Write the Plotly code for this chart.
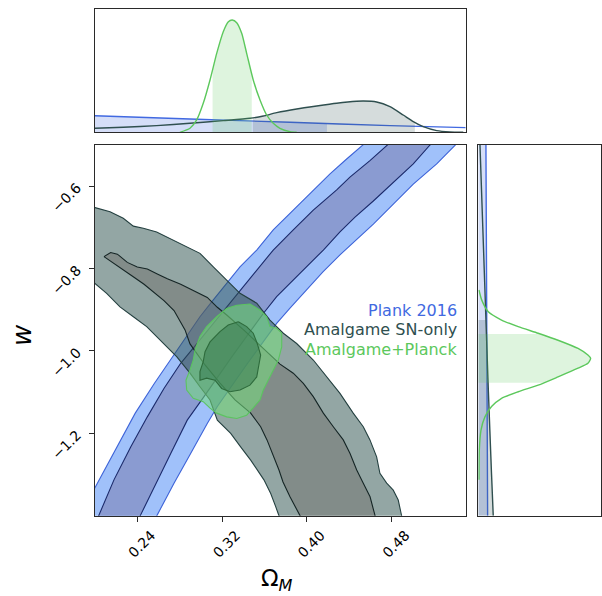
import numpy as np
import plotly.graph_objects as go

# ---------------- 2D credible regions (Omega_M, w) ----------------
# Planck 2016: boundaries of the 2-sigma band (outer) and 1-sigma band (inner)
planck_outer_left_x = [0.1783, 0.2000, 0.2211, 0.2380, 0.2560, 0.2730, 0.2903, 0.2991, 0.3117, 0.3243,
                       0.3369, 0.3527, 0.3683, 0.3872, 0.4061, 0.4219, 0.4376, 0.4533, 0.4691]
planck_outer_left_w = [-1.435, -1.333, -1.233, -1.151, -1.079, -1.014, -0.949, -0.917, -0.876, -0.836,
                       -0.796, -0.755, -0.706, -0.658, -0.609, -0.570, -0.534, -0.500, -0.464]
planck_outer_right_x = [0.2514, 0.2588, 0.2746, 0.2903, 0.3060, 0.3155, 0.3435, 0.3715, 0.3841, 0.3992,
                        0.4152, 0.4313, 0.4464, 0.4628, 0.4817, 0.5005, 0.5226, 0.5399, 0.5540]
planck_outer_right_w = [-1.435, -1.398, -1.321, -1.249, -1.176, -1.135, -1.032, -0.933, -0.896, -0.852,
                        -0.808, -0.767, -0.731, -0.692, -0.643, -0.595, -0.546, -0.500, -0.464]
planck_inner_left_x = [0.1977, 0.2038, 0.2179, 0.2337, 0.2494, 0.2651, 0.2809, 0.2991, 0.3117, 0.3243,
                       0.3369, 0.3527, 0.3683, 0.3872, 0.4061, 0.4282, 0.4407, 0.4596, 0.4760, 0.4917]
planck_inner_left_w = [-1.435, -1.398, -1.313, -1.233, -1.160, -1.091, -1.030, -0.973, -0.933, -0.893,
                       -0.852, -0.804, -0.755, -0.706, -0.658, -0.609, -0.578, -0.538, -0.500, -0.464]
planck_inner_right_x = [0.2365, 0.2431, 0.2557, 0.2715, 0.2871, 0.3029, 0.3303, 0.3589, 0.3715, 0.3841,
                        0.3999, 0.4156, 0.4313, 0.4455, 0.4628, 0.4817, 0.5005, 0.5163, 0.5305]
planck_inner_right_w = [-1.435, -1.398, -1.330, -1.249, -1.168, -1.111, -1.010, -0.909, -0.868, -0.836,
                        -0.796, -0.755, -0.711, -0.675, -0.636, -0.592, -0.546, -0.500, -0.464]

# Amalgame SN-only: closed outlines of the 2-sigma and 1-sigma regions
sn_outer_x = [0.1906, 0.2000, 0.2142, 0.2267, 0.2362, 0.2456, 0.2582, 0.2708, 0.2866, 0.2991, 0.3117,
              0.3243, 0.3369, 0.3527, 0.3652, 0.3778, 0.3904, 0.4061, 0.4187, 0.4313, 0.4438, 0.4533,
              0.4596, 0.4659, 0.4690, 0.4754, 0.4816, 0.4863, 0.4895, 0.4900,
              0.3740, 0.3737, 0.3706, 0.3659, 0.3595, 0.3532, 0.3470, 0.3375, 0.3281, 0.3155, 0.3086,
              0.2991, 0.2897, 0.2771, 0.2677, 0.2582, 0.2488, 0.2362, 0.2236, 0.2110, 0.2000, 0.1906]
sn_outer_w = [-0.634, -0.652, -0.662, -0.678, -0.697, -0.702, -0.711, -0.727, -0.747, -0.763, -0.796,
              -0.828, -0.860, -0.884, -0.925, -0.957, -0.982, -1.022, -1.063, -1.103, -1.151, -1.184,
              -1.216, -1.257, -1.297, -1.321, -1.338, -1.362, -1.400, -1.435,
              -1.435, -1.400, -1.378, -1.346, -1.313, -1.289, -1.265, -1.233, -1.200, -1.168, -1.119,
              -1.087, -1.054, -1.014, -0.990, -0.965, -0.941, -0.917, -0.893, -0.860, -0.836, -0.816]
sn_inner_x = [0.2085, 0.2148, 0.2211, 0.2305, 0.2399, 0.2494, 0.2588, 0.2683, 0.2809, 0.2935, 0.3060,
              0.3155, 0.3249, 0.3416, 0.3539, 0.3652, 0.3747, 0.3872, 0.3967, 0.4061, 0.4156, 0.4250,
              0.4344, 0.4408, 0.4471, 0.4533, 0.4597, 0.4644, 0.4653,
              0.3936, 0.3936, 0.3841, 0.3775, 0.3737, 0.3681, 0.3624, 0.3564, 0.3470, 0.3322, 0.3180,
              0.3039, 0.2897, 0.2850, 0.2803, 0.2746, 0.2651, 0.2557, 0.2463, 0.2368, 0.2274, 0.2179, 0.2116]
sn_inner_w = [-0.771, -0.761, -0.765, -0.785, -0.796, -0.801, -0.813, -0.825, -0.838, -0.854, -0.870,
              -0.894, -0.914, -0.952, -0.981, -1.010, -1.032, -1.054, -1.079, -1.111, -1.151, -1.184,
              -1.216, -1.249, -1.289, -1.321, -1.354, -1.400, -1.435,
              -1.435, -1.400, -1.354, -1.318, -1.289, -1.253, -1.216, -1.184, -1.151, -1.119, -1.078,
              -1.034, -0.983, -0.949, -0.927, -0.902, -0.878, -0.858, -0.838, -0.821, -0.805, -0.789, -0.777]

# Amalgame+Planck: closed outlines of the 2-sigma and 1-sigma regions
amal_outer_x = [0.3338, 0.3463, 0.3558, 0.3621, 0.3652, 0.3715, 0.3763, 0.3763, 0.3731, 0.3683, 0.3636,
                0.3589, 0.3558, 0.3494, 0.3432, 0.3338, 0.3243, 0.3149, 0.3086, 0.3022, 0.2928, 0.2866,
                0.2859, 0.2897, 0.2928, 0.2944, 0.2991, 0.3054, 0.3149, 0.3243]
amal_outer_w = [-0.889, -0.886, -0.901, -0.917, -0.941, -0.945, -0.957, -0.990, -1.022, -1.046, -1.071,
                -1.095, -1.119, -1.139, -1.156, -1.164, -1.160, -1.151, -1.139, -1.123, -1.115, -1.095,
                -1.071, -1.046, -1.022, -0.998, -0.965, -0.941, -0.917, -0.897]
amal_inner_x = [0.3353, 0.3432, 0.3494, 0.3532, 0.3564, 0.3542, 0.3527, 0.3463, 0.3369, 0.3274, 0.3196,
                0.3133, 0.3054, 0.2991, 0.2991, 0.3022, 0.3039, 0.3086, 0.3180, 0.3258]
amal_inner_w = [-0.929, -0.941, -0.957, -0.982, -1.010, -1.038, -1.063, -1.083, -1.095, -1.099, -1.091,
                -1.071, -1.066, -1.071, -1.050, -1.026, -1.002, -0.978, -0.953, -0.937]

# ---------------- 1D marginals ----------------
# Omega_M marginals (relative density)
top_planck_x = [0.200, 0.2897, 0.3841, 0.4785, 0.550]
top_planck_d = [0.148, 0.119, 0.089, 0.059, 0.042]
top_sn_x = [0.2000, 0.2267, 0.2582, 0.2897, 0.3211, 0.3463, 0.3589, 0.3715, 0.3904, 0.4093, 0.4282,
            0.4470, 0.4533, 0.4659, 0.4785, 0.4910, 0.5005, 0.5099, 0.5226, 0.5351, 0.5477]
top_sn_d = [0.036, 0.045, 0.059, 0.080, 0.104, 0.125, 0.145, 0.175, 0.208, 0.234, 0.258,
            0.276, 0.279, 0.270, 0.228, 0.154, 0.095, 0.050, 0.015, 0.003, 0.000]
top_amal_x = [0.2802, 0.2897, 0.2960, 0.3022, 0.3086, 0.3149, 0.3211, 0.3259, 0.3296, 0.3338, 0.3385,
              0.3432, 0.3494, 0.3558, 0.3621, 0.3683, 0.3746, 0.3841, 0.3904]
top_amal_d = [0.000, 0.036, 0.110, 0.258, 0.466, 0.703, 0.896, 0.985, 1.000, 0.976, 0.881,
              0.703, 0.466, 0.288, 0.154, 0.080, 0.036, 0.006, 0.000]

# w marginals (relative density)
side_planck_w = [-0.5, -0.8, -1.1, -1.4]
side_planck_d = [0.068, 0.073, 0.078, 0.083]
side_sn_w = [-0.5, -0.7, -0.9, -1.1, -1.3, -1.4]
side_sn_d = [0.015, 0.040, 0.065, 0.090, 0.118, 0.133]
side_amal_w = [-0.852, -0.876, -0.905, -0.925, -0.941, -0.957, -0.974, -0.994, -1.010, -1.018, -1.030,
               -1.042, -1.063, -1.083, -1.099, -1.115, -1.135, -1.160, -1.192, -1.241, -1.313]
side_amal_d = [0.006, 0.030, 0.089, 0.207, 0.355, 0.533, 0.710, 0.888, 0.976, 1.000, 0.976,
               0.888, 0.710, 0.533, 0.355, 0.207, 0.118, 0.059, 0.024, 0.009, 0.006]

# 68% intervals shaded under each marginal
planck_x_interval = (0.200, 0.419)
sn_x_interval = (0.349, 0.502)
amal_x_interval = (0.311, 0.348)
planck_w_interval = (-1.40, -0.50)
sn_w_interval = (-1.40, -0.925)
amal_w_interval = (-1.077, -0.959)

# axis ticks
x_ticks = [0.24, 0.32, 0.40, 0.48]
x_tick_text = ["0.24", "0.32", "0.40", "0.48"]
w_ticks = [-1.2, -1.0, -0.8, -0.6]
w_tick_text = ["\u22121.2", "\u22121.0", "\u22120.8", "\u22120.6"]

legend_names = ["Plank 2016", "Amalgame SN-only", "Amalgame+Planck"]
colors = ["#4169E1", "#2F4F4F", "#5CC85C"]

FONT = "DejaVu Sans"
W, H = 602, 596

fig = go.Figure()


def polygon(x, y, fill, line, width=1.1):
    fig.add_trace(go.Scatter(x=list(x) + [x[0]], y=list(y) + [y[0]], mode="lines",
                             fill="toself", fillcolor=fill,
                             line=dict(color=line, width=width),
                             hoverinfo="skip", showlegend=False, xaxis="x", yaxis="y"))


# Planck band: the 2-sigma region and the 1-sigma region
polygon(planck_outer_left_x + planck_outer_right_x[::-1],
        planck_outer_left_w + planck_outer_right_w[::-1],
        "#A0C1FA", "#3D63D8")
polygon(planck_inner_left_x + planck_inner_right_x[::-1],
        planck_inner_left_w + planck_inner_right_w[::-1],
        "#8A9BD1", "#1B2A6B")
# SN-only contours
polygon(sn_outer_x, sn_outer_w, "rgba(47,85,80,0.52)", "#244040")
polygon(sn_inner_x, sn_inner_w, "rgba(105,102,98,0.40)", "#152525")
# combined contours
polygon(amal_outer_x, amal_outer_w, "rgba(118,222,124,0.56)", "#5CC460")
polygon(amal_inner_x, amal_inner_w, "rgba(45,112,70,0.45)", "#2E6B3C")


def shade_top(xs, ds, interval, color):
    lo, hi = interval
    inner = [(a, b) for a, b in zip(xs, ds) if lo < a < hi]
    px = [lo] + [a for a, _ in inner] + [hi]
    pd_ = [float(np.interp(lo, xs, ds))] + [b for _, b in inner] + [float(np.interp(hi, xs, ds))]
    fig.add_trace(go.Scatter(x=px, y=pd_, mode="lines", fill="tozeroy", fillcolor=color,
                             line=dict(width=0, color=color), hoverinfo="skip",
                             showlegend=False, xaxis="x2", yaxis="y2"))


def shade_side(ws, ds, interval, color):
    lo, hi = interval
    order = np.argsort(ws)
    ws_s = np.asarray(ws)[order]
    ds_s = np.asarray(ds)[order]
    inner = [(a, b) for a, b in zip(ws_s, ds_s) if lo < a < hi]
    pw = [lo] + [a for a, _ in inner] + [hi]
    pd_ = [float(np.interp(lo, ws_s, ds_s))] + [b for _, b in inner] + [float(np.interp(hi, ws_s, ds_s))]
    fig.add_trace(go.Scatter(x=pd_, y=pw, mode="lines", fill="tozerox", fillcolor=color,
                             line=dict(width=0, color=color), hoverinfo="skip",
                             showlegend=False, xaxis="x3", yaxis="y3"))


def curve(x, y, color, ax, ay):
    fig.add_trace(go.Scatter(x=x, y=y, mode="lines", line=dict(color=color, width=1.4, shape="spline",
                                                              smoothing=0.6),
                             hoverinfo="skip", showlegend=False, xaxis=ax, yaxis=ay))


# Omega_M marginals
shade_top(top_planck_x, top_planck_d, planck_x_interval, "rgba(65,105,225,0.22)")
curve(top_planck_x, top_planck_d, colors[0], "x2", "y2")
shade_top(top_sn_x, top_sn_d, sn_x_interval, "rgba(47,79,79,0.2)")
curve(top_sn_x, top_sn_d, colors[1], "x2", "y2")
shade_top(top_amal_x, top_amal_d, amal_x_interval, "rgba(92,200,92,0.2)")
curve(top_amal_x, top_amal_d, colors[2], "x2", "y2")

# w marginals
shade_side(side_planck_w, side_planck_d, planck_w_interval, "rgba(65,105,225,0.22)")
curve(side_planck_d, side_planck_w, colors[0], "x3", "y3")
shade_side(side_sn_w, side_sn_d, sn_w_interval, "rgba(47,79,79,0.2)")
curve(side_sn_d, side_sn_w, colors[1], "x3", "y3")
shade_side(side_amal_w, side_amal_d, amal_w_interval, "rgba(92,200,92,0.2)")
curve(side_amal_d, side_amal_w, colors[2], "x3", "y3")

main_x_dom = [95 / W, 465.7 / W]
main_y_dom = [(H - 515.7) / H, (H - 145) / H]
top_y_dom = [(H - 132.3) / H, (H - 9.3) / H]
side_x_dom = [478.3 / W, 601.3 / W]

frame = dict(showline=True, mirror=True, linecolor="#2a2a2a", linewidth=1.2,
             showgrid=False, zeroline=False)

fig.update_layout(
    width=W, height=H,
    margin=dict(l=0, r=0, t=0, b=0),
    paper_bgcolor="white", plot_bgcolor="white",
    font=dict(family=FONT, color="black"),
    showlegend=False,
    xaxis=dict(domain=main_x_dom, range=[0.2, 0.55], anchor="y", **frame,
               ticks="outside", ticklen=5, tickwidth=1, tickcolor="#2a2a2a",
               tickvals=x_ticks, ticktext=x_tick_text, tickangle=-45,
               tickfont=dict(size=14, family=FONT), ticklabelshift=14),
    yaxis=dict(domain=main_y_dom, range=[-1.4, -0.5], anchor="x", **frame,
               ticks="outside", ticklen=5, tickwidth=1, tickcolor="#2a2a2a",
               tickvals=w_ticks, ticktext=w_tick_text, tickangle=-45,
               tickfont=dict(size=14, family=FONT), ticklabelstandoff=9),
    xaxis2=dict(domain=main_x_dom, range=[0.2, 0.55], anchor="y2", matches="x",
                showticklabels=False, ticks="", **frame),
    yaxis2=dict(domain=top_y_dom, range=[0, 1.095], anchor="x2",
                showticklabels=False, ticks="", **frame),
    xaxis3=dict(domain=side_x_dom, range=[0, 1.095], anchor="y3",
                showticklabels=False, ticks="", **frame),
    yaxis3=dict(domain=main_y_dom, range=[-1.4, -0.5], anchor="x3", matches="y",
                showticklabels=False, ticks="", **frame),
)

# axis titles
fig.add_annotation(text="\u03a9<sub><i>M</i></sub>", xref="paper", yref="paper",
                   x=277 / W, y=(H - 580) / H, xanchor="center", yanchor="middle", showarrow=False,
                   font=dict(size=23, family=FONT, color="black"))
fig.add_annotation(text="<i>w</i>", xref="paper", yref="paper",
                   x=22 / W, y=(H - 335) / H, xanchor="center", yanchor="middle",
                   showarrow=False, textangle=-90,
                   font=dict(size=26, family=FONT, color="black"))

# legend as coloured text
for name, col, yc in zip(legend_names, colors, [310, 330, 349]):
    fig.add_annotation(text=name, xref="paper", yref="paper", x=459 / W, y=(H - yc) / H,
                       xanchor="right", yanchor="middle", showarrow=False,
                       font=dict(size=16, family=FONT, color=col))

fig.write_html("out.html")
